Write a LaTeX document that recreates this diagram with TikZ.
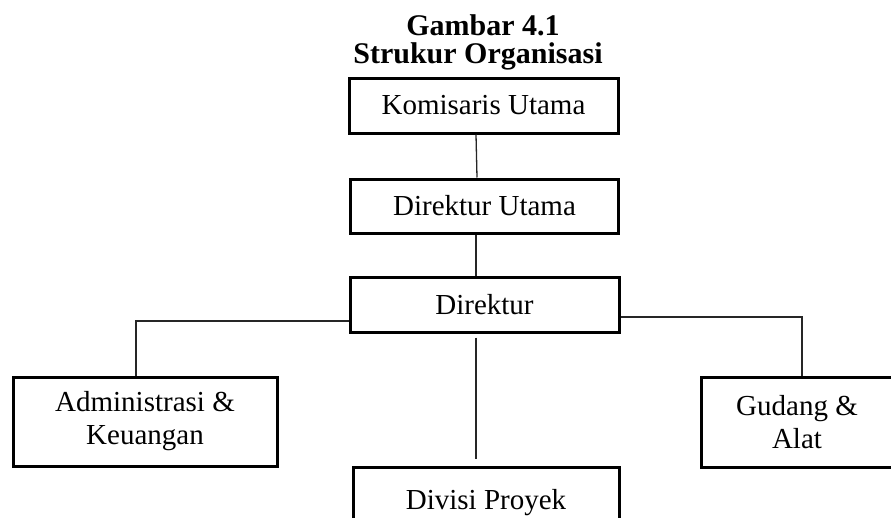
\documentclass[tikz,border=0pt]{standalone}
\usepackage{fontspec}
\setmainfont{Liberation Serif}
\usetikzlibrary{positioning, calc}
\tikzset{
    box/.style={rectangle, draw, line width=3pt, align=center, inner sep=0pt, font=\fontsize{29}{33}\selectfont},
    heading/.style={inner sep=0pt, font=\fontsize{30}{30}\selectfont\bfseries},
    link/.style={line width=1.3pt, draw=black!85}
}

\begin{document}
\begin{tikzpicture}[x=1pt, y=-1pt]
    \useasboundingbox (0,0) rectangle (891,517);
    \clip (0,0) rectangle (891,517);

    % Judul
    \node (gambar) [heading, anchor=base] at (483,35) {Gambar 4.1};
    \node (judul) [heading, anchor=base] at (478,63) {Strukur Organisasi};

    % Nodes
    \node (komisaris) [box, minimum width=269pt, minimum height=55pt] at (483.5,105.5) {Komisaris Utama};
    \node (dirut) [box, minimum width=268pt, minimum height=54pt] at (484.5,206) {Direktur Utama};
    \node (direktur) [box, minimum width=269pt, minimum height=55pt] at (484.5,304.5) {Direktur};
    \node (admin) [box, minimum width=264pt, minimum height=89pt] at (145,421.5) {Administrasi \&\\ Keuangan};
    \node (gudang) [box, minimum width=192pt, minimum height=90pt] at (797,422) {Gudang \&\\ Alat};
    \node (divisi) [box, minimum width=266pt, minimum height=72pt] at (486,503) {Divisi Proyek};

    % Connectors
    \draw [link] ([xshift=-7.5pt]komisaris.south) -- ([xshift=-7.5pt]dirut.north);
    \draw [link] ([xshift=-8.5pt]dirut.south) -- ([xshift=-8.5pt]direktur.north);
    \draw [link, shorten <=4pt, shorten >=7pt] ([xshift=-8.5pt]direktur.south) -- ([xshift=-10pt]divisi.north);
    \draw [link] ([yshift=-16.5pt]direktur.west) -| ([xshift=-9pt]admin.north);
    \draw [link] ([yshift=-12.5pt]direktur.east) -| ([xshift=5pt]gudang.north);

\end{tikzpicture}
\end{document}
